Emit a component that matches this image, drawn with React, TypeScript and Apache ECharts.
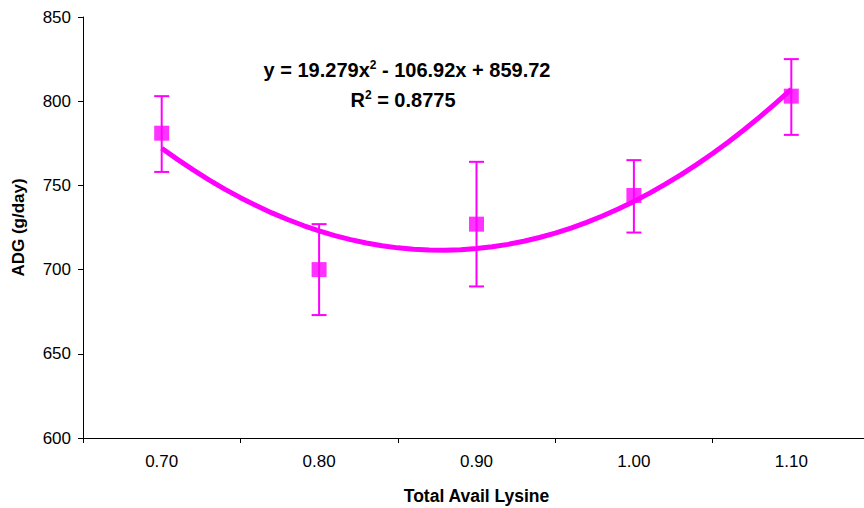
import React, { useEffect, useRef } from "react";
import * as echarts from "echarts";

const categories = ["0.70", "0.80", "0.90", "1.00", "1.10"];
const adgMeans = [781, 700, 727, 744, 803];
const errLow = [758, 673, 690, 722, 780];
const errHigh = [803, 727, 764, 765, 825];
// Trendline coefficients shown on the chart: y = a x^2 + b x + c (x = category index 1..5)
const trendCoef = [19.279, -106.92, 859.72];
const trendXs = [1.0, 1.1, 1.2, 1.3, 1.4, 1.5, 1.6, 1.7, 1.8, 1.9, 2.0, 2.1, 2.2, 2.3, 2.4, 2.5, 2.6, 2.7, 2.8, 2.9, 3.0, 3.1, 3.2, 3.3, 3.4, 3.5, 3.6, 3.7, 3.8, 3.9, 4.0, 4.1, 4.2, 4.3, 4.4, 4.5, 4.6, 4.7, 4.8, 4.9, 5.0];
const yTicks = [600, 650, 700, 750, 800, 850];

const MAG = "#FF00FF";
const FONT = "'Liberation Sans', Arial, sans-serif";

export default function App() {
  const ref = useRef<HTMLDivElement>(null);
  useEffect(() => {
    document.body.style.margin = "0";
    document.body.style.overflow = "hidden";
    const chart = echarts.init(ref.current!, null, { renderer: "svg" });
    const trend = trendXs.map((x) => [x, trendCoef[0] * x * x + trendCoef[1] * x + trendCoef[2]]);
    const errData = categories.map((_, i) => [i, errLow[i], errHigh[i]]);
    chart.setOption({
      animation: false,
      backgroundColor: "#fff",
      textStyle: { fontFamily: FONT },
      grid: { left: 83, right: -6, top: 17, bottom: 70, containLabel: false, outerBoundsMode: "none" },
      xAxis: [
        {
          type: "category",
          data: categories,
          boundaryGap: true,
          name: "Total Avail Lysine",
          nameLocation: "middle",
          nameGap: 49,
          nameTextStyle: { fontFamily: FONT, fontSize: 17.5, fontWeight: "bold", color: "#000" },
          axisLine: { lineStyle: { color: "#000", width: 1 } },
          axisTick: { show: true, length: 5, lineStyle: { color: "#000" } },
          axisLabel: { fontFamily: FONT, fontSize: 17, color: "#000", margin: 15 },
          splitLine: { show: false },
        },
        {
          type: "value",
          min: 0.5,
          max: 5.5,
          show: false,
        },
      ],
      yAxis: {
        type: "value",
        min: yTicks[0],
        max: yTicks[yTicks.length - 1],
        interval: 50,
        name: "ADG (g/day)",
        nameLocation: "middle",
        nameGap: 56,
        nameTextStyle: { fontFamily: FONT, fontSize: 17, fontWeight: "bold", color: "#000" },
        axisLine: { show: true, lineStyle: { color: "#000", width: 1 } },
        axisTick: { show: true, length: 5, lineStyle: { color: "#000" } },
        axisLabel: { fontFamily: FONT, fontSize: 17, color: "#000", margin: 12 },
        splitLine: { show: false },
      },
      series: [
        {
          type: "custom",
          xAxisIndex: 0,
          data: errData,
          z: 3,
          renderItem: (params: any, api: any) => {
            const i = api.value(0);
            const lo = api.coord([i, api.value(1)]);
            const hi = api.coord([i, api.value(2)]);
            const w = 7.5;
            const st = { stroke: MAG, lineWidth: 2 };
            return {
              type: "group",
              children: [
                { type: "line", shape: { x1: lo[0], y1: lo[1], x2: hi[0], y2: hi[1] }, style: st },
                { type: "line", shape: { x1: lo[0] - w, y1: lo[1], x2: lo[0] + w, y2: lo[1] }, style: st },
                { type: "line", shape: { x1: hi[0] - w, y1: hi[1], x2: hi[0] + w, y2: hi[1] }, style: st },
              ],
            };
          },
        },
        {
          type: "line",
          xAxisIndex: 1,
          data: trend,
          smooth: false,
          showSymbol: false,
          symbol: "none",
          lineStyle: { color: MAG, width: 5 },
          z: 4,
        },
        {
          type: "scatter",
          xAxisIndex: 0,
          data: adgMeans,
          symbol: "rect",
          symbolSize: 15,
          itemStyle: { color: MAG },
          z: 5,
        },
      ],
      graphic: [
        {
          type: "text",
          x: 407,
          y: 70,
          style: {
            text: "{m|y = 19.279x}{s|2}{m| - 106.92x + 859.72}",
            align: "center",
            verticalAlign: "middle",
            rich: {
              m: { fontFamily: FONT, fontSize: 20, fontWeight: "bold", fill: "#000", lineHeight: 22 },
              s: { fontFamily: FONT, fontSize: 12, fontWeight: "bold", fill: "#000", lineHeight: 22, verticalAlign: "top", padding: [0, 0, 10, 0] },
            },
          },
        },
        {
          type: "text",
          x: 403,
          y: 100,
          style: {
            text: "{m|R}{s|2}{m| = 0.8775}",
            align: "center",
            verticalAlign: "middle",
            rich: {
              m: { fontFamily: FONT, fontSize: 20, fontWeight: "bold", fill: "#000", lineHeight: 22 },
              s: { fontFamily: FONT, fontSize: 12, fontWeight: "bold", fill: "#000", lineHeight: 22, verticalAlign: "top", padding: [0, 0, 10, 0] },
            },
          },
        },
      ],
    });
    return () => chart.dispose();
  }, []);
  return (
    <div style={{ width: 864, height: 508, position: "absolute", left: 0, top: 0, overflow: "hidden" }}>
      <div ref={ref} style={{ width: 864, height: 508 }} />
    </div>
  );
}
